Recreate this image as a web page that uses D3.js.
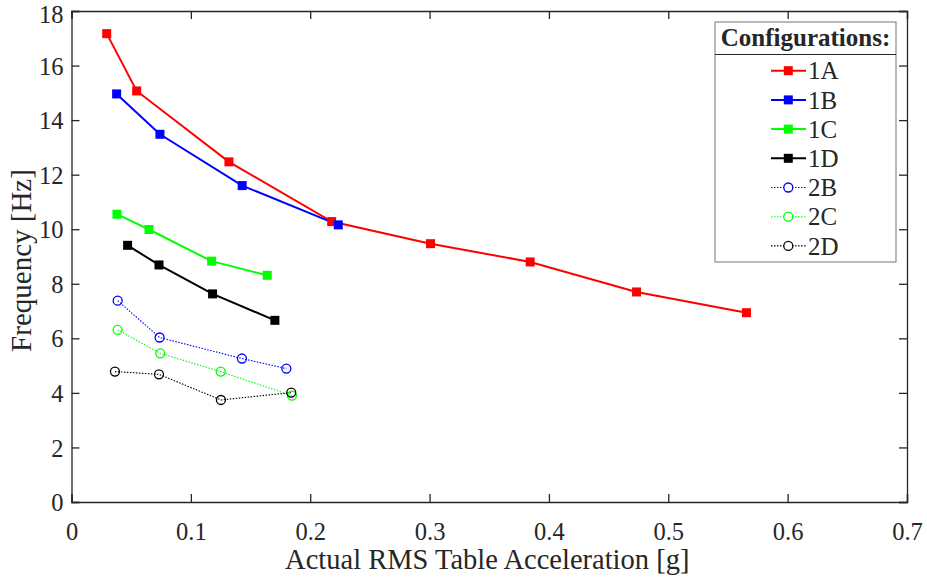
<!DOCTYPE html>
<html>
<head>
<meta charset="utf-8">
<script src="https://cdn.jsdelivr.net/npm/d3@7"></script>
<style>
  html, body { margin: 0; padding: 0; background: #fff; }
  svg { display: block; }
  text { font-family: "Liberation Serif", "Times New Roman", serif; fill: #262626; }
</style>
</head>
<body>
<svg id="chart" width="927" height="578"></svg>
<script>
// ---- data ----
const seriesNames = ["1A", "1B", "1C", "1D", "2B", "2C", "2D"];
const seriesColors = ["#ff0000", "#0000ff", "#00ff00", "#000000", "#0000ff", "#00ff00", "#000000"];
const seriesKind = ["square", "square", "square", "square", "circle", "circle", "circle"];

const x1A = [0.0295, 0.0546, 0.1319, 0.218, 0.3008, 0.3843, 0.4734, 0.5655];
const y1A = [17.17, 15.07, 12.47, 10.28, 9.47, 8.80, 7.70, 6.94];
const x1B = [0.0378, 0.0741, 0.143, 0.2235];
const y1B = [14.96, 13.48, 11.60, 10.16];
const x1C = [0.0381, 0.0649, 0.1174, 0.164];
const y1C = [10.55, 9.99, 8.83, 8.31];
const x1D = [0.0470, 0.0733, 0.1182, 0.1704];
const y1D = [9.41, 8.69, 7.63, 6.66];
const x2B = [0.0387, 0.0738, 0.1428, 0.180];
const y2B = [7.38, 6.03, 5.26, 4.89];
const x2C = [0.0387, 0.0744, 0.125, 0.1847];
const y2C = [6.31, 5.45, 4.78, 3.90];
const x2D = [0.0364, 0.0733, 0.1252, 0.1841];
const y2D = [4.78, 4.68, 3.74, 4.01];

const xTicks = [0, 0.1, 0.2, 0.3, 0.4, 0.5, 0.6, 0.7];
const yTicks = [0, 2, 4, 6, 8, 10, 12, 14, 16, 18];
const xLabel = "Actual RMS Table Acceleration [g]";
const yLabel = "Frequency [Hz]";
const legendTitle = "Configurations:";

const xs = [x1A, x1B, x1C, x1D, x2B, x2C, x2D];
const ys = [y1A, y1B, y1C, y1D, y2B, y2C, y2D];
const series = seriesNames.map((n, i) => ({
  name: n, color: seriesColors[i], kind: seriesKind[i],
  pts: xs[i].map((x, j) => ({x, y: ys[i][j]}))
}));

// ---- layout ----
const L = 71.5, R = 907, T = 11, B = 502;
const svg = d3.select("#chart");
const x = d3.scaleLinear().domain([0, 0.7]).range([L, R]);
const y = d3.scaleLinear().domain([0, 18]).range([B, T]);
const axisColor = "#262626";
const tickLen = 8;
const FONT = '"Liberation Serif", "Times New Roman", serif';

// axes
const gx = svg.append("g").attr("transform", `translate(0,${B})`)
  .call(d3.axisBottom(x).tickValues(xTicks).tickSize(-tickLen).tickPadding(21)
    .tickFormat(d => d === 0 ? "0" : d3.format(".1f")(d)));
const gxTop = svg.append("g").attr("transform", `translate(0,${T})`)
  .call(d3.axisTop(x).tickValues(xTicks).tickSize(-tickLen).tickFormat(""));
const gy = svg.append("g").attr("transform", `translate(${L},0)`)
  .call(d3.axisLeft(y).tickValues(yTicks).tickSize(-tickLen).tickPadding(8).tickFormat(d3.format("d")));
const gyR = svg.append("g").attr("transform", `translate(${R},0)`)
  .call(d3.axisRight(y).tickValues(yTicks).tickSize(-tickLen).tickFormat(""));

[gx, gxTop, gy, gyR].forEach(g => {
  g.attr("font-family", FONT);
  g.select(".domain").attr("stroke", axisColor).attr("stroke-width", 1.3);
  g.selectAll(".tick line").attr("stroke", axisColor).attr("stroke-width", 1.3);
  g.selectAll(".tick text").attr("font-size", 24.5).attr("fill", axisColor)
    .attr("font-family", FONT);
});
gx.selectAll(".tick text").attr("dy", "0.68em");
gy.selectAll(".tick text").attr("dy", d => d === 18 ? "0.46em" : "0.35em");

// axis labels
svg.append("text").attr("x", (L + R) / 2 - 2).attr("y", 569)
  .attr("text-anchor", "middle").attr("font-size", 28.5).text(xLabel);
svg.append("text").attr("transform", `translate(31,${(T + B) / 2 + 4}) rotate(-90)`)
  .attr("text-anchor", "middle").attr("font-size", 29).text(yLabel);

// series
const line = d3.line().x(d => x(d.x)).y(d => y(d.y));
const plot = svg.append("g");
series.forEach(s => {
  const dotted = s.kind === "circle";
  plot.append("path").datum(s.pts)
    .attr("d", line).attr("fill", "none")
    .attr("stroke", s.color)
    .attr("stroke-width", dotted ? 1.1 : 2)
    .attr("stroke-dasharray", dotted ? "1.5,1.5" : null);
});
series.forEach(s => {
  const g = plot.append("g");
  if (s.kind === "square") {
    g.selectAll("rect").data(s.pts).join("rect")
      .attr("x", d => x(d.x) - 4.5).attr("y", d => y(d.y) - 4.5)
      .attr("width", 9).attr("height", 9).attr("fill", s.color);
  } else {
    g.selectAll("circle").data(s.pts).join("circle")
      .attr("cx", d => x(d.x)).attr("cy", d => y(d.y)).attr("r", 4.5)
      .attr("fill", "none").attr("stroke", s.color).attr("stroke-width", 1.3);
  }
});

// legend
const lg = svg.append("g");
const LX0 = 715, LY0 = 22, LX1 = 896, LY1 = 262;
lg.append("rect").attr("x", LX0).attr("y", LY0).attr("width", LX1 - LX0).attr("height", LY1 - LY0)
  .attr("fill", "#fff").attr("stroke", "#8c8c8c").attr("stroke-width", 1.2);
lg.append("line").attr("x1", LX0).attr("x2", LX1).attr("y1", 54.5).attr("y2", 54.5)
  .attr("stroke", "#262626").attr("stroke-width", 1);
lg.append("text").attr("x", (LX0 + LX1) / 2).attr("y", 46).attr("text-anchor", "middle")
  .attr("font-size", 25).attr("font-weight", "bold").attr("fill", "#000").text(legendTitle);
series.forEach((s, i) => {
  const cy = 70.7 + i * 29.2;
  const dotted = s.kind === "circle";
  lg.append("line").attr("x1", 771).attr("x2", 806).attr("y1", cy).attr("y2", cy)
    .attr("stroke", s.color).attr("stroke-width", dotted ? 1.1 : 2)
    .attr("stroke-dasharray", dotted ? "1.5,1.5" : null);
  if (s.kind === "square") {
    lg.append("rect").attr("x", 788.3 - 4.5).attr("y", cy - 4.5).attr("width", 9).attr("height", 9).attr("fill", s.color);
  } else {
    lg.append("circle").attr("cx", 788.3).attr("cy", cy).attr("r", 4.5).attr("fill", "#fff")
      .attr("stroke", s.color).attr("stroke-width", 1.3);
  }
  lg.append("text").attr("x", 808).attr("y", cy).attr("dy", "0.35em")
    .attr("font-size", 25).text(s.name);
});
</script>
</body>
</html>
